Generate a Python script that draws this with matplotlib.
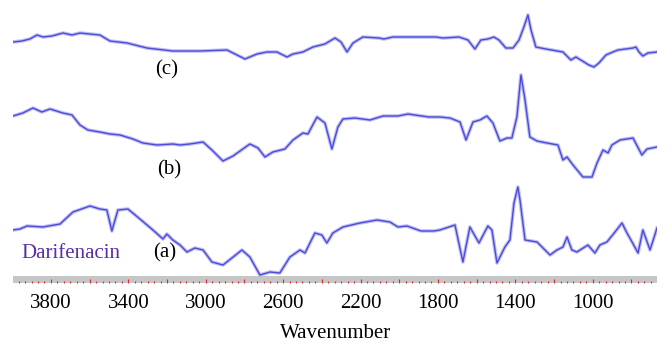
import matplotlib
matplotlib.use("Agg")
import matplotlib.pyplot as plt
from matplotlib.ticker import MultipleLocator, FuncFormatter

# FTIR spectra, wavenumber (cm-1) vs. offset transmittance (arbitrary units)
wn_c = [3996, 3950, 3909, 3872, 3841, 3795, 3738, 3691, 3650, 3547, 3495, 3407,
        3304, 3170, 3030, 2890, 2859, 2797, 2735, 2684, 2632, 2580, 2549, 2498,
        2446, 2384, 2332, 2301, 2270, 2239, 2188, 2105, 2079, 2033, 1810, 1774,
        1691, 1645, 1609, 1578, 1542, 1511, 1485, 1449, 1412, 1381, 1356, 1335,
        1319, 1294, 1242, 1154, 1113, 1087, 1020, 994, 968, 932, 896, 870, 792,
        777, 761, 741, 715, 668]
tr_c = [241, 242, 244, 248, 246, 247, 250, 248, 250, 248, 242, 240,
        235, 232, 232, 233, 230, 224, 229, 231, 231, 226, 229, 231,
        236, 239, 245, 241, 231, 240, 246, 245, 244, 246, 246, 245,
        246, 243, 234, 243, 244, 246, 243, 235, 235, 243, 256, 268,
        253, 236, 234, 231, 223, 226, 218, 216, 220, 228, 231, 233, 235,
        236, 231, 227, 230, 231]

wn_b = [3996, 3945, 3893, 3847, 3805, 3738, 3691, 3650, 3609, 3547, 3495, 3443,
        3376, 3325, 3252, 3170, 3133, 3082, 3014, 2968, 2911, 2859, 2772, 2730,
        2694, 2653, 2591, 2549, 2498, 2472, 2425, 2384, 2348, 2317, 2291, 2229,
        2151, 2084, 2007, 1955, 1847, 1790, 1738, 1686, 1655, 1619, 1583, 1547,
        1516, 1480, 1443, 1418, 1392, 1371, 1350, 1325, 1288, 1237, 1180, 1154,
        1133, 1102, 1051, 1004, 978, 947, 921, 901, 859, 792, 746, 720, 668]
tr_b = [167, 170, 175, 171, 174, 170, 168, 158, 153, 151, 149, 148,
        144, 140, 138, 139, 138, 139, 141, 133, 122, 127, 139, 135,
        126, 131, 134, 143, 150, 149, 166, 160, 134, 156, 164, 165,
        163, 167, 167, 169, 166, 166, 165, 161, 143, 161, 163, 167,
        160, 142, 145, 145, 166, 208, 183, 146, 142, 140, 138, 123,
        126, 118, 106, 106, 120, 133, 130, 138, 143, 145, 128, 134, 136]

wn_a = [3996, 3960, 3924, 3841, 3753, 3686, 3598, 3547, 3511, 3485, 3454, 3402,
        3340, 3273, 3221, 3201, 3170, 3133, 3097, 3056, 3014, 2968, 2911, 2865,
        2813, 2772, 2720, 2668, 2617, 2565, 2513, 2487, 2436, 2400, 2374, 2343,
        2291, 2203, 2115, 2048, 2007, 1960, 1888, 1821, 1790, 1712, 1671, 1635,
        1588, 1542, 1521, 1495, 1454, 1428, 1407, 1387, 1376, 1350, 1288, 1221,
        1185, 1154, 1133, 1108, 1082, 1025, 989, 963, 927, 885, 849, 823,
        797, 766, 741, 704, 668]
tr_a = [53, 54, 57, 56, 59, 71, 77, 74, 73, 52, 73, 74,
        64, 53, 44, 49, 43, 38, 31, 35, 33, 21, 18, 25,
        33, 26, 8, 11, 10, 26, 33, 30, 50, 48, 40, 50,
        56, 60, 63, 61, 56, 57, 52, 52, 53, 58, 21, 56,
        40, 57, 53, 20, 36, 43, 80, 96, 83, 43, 41, 28,
        33, 36, 46, 33, 31, 38, 30, 38, 41, 51, 60, 50,
        41, 30, 53, 33, 55]

tick_labels = [3800, 3400, 3000, 2600, 2200, 1800, 1400, 1000]

W, H = 672, 354
fig = plt.figure(figsize=(W / 100, H / 100), dpi=100)
ax = fig.add_axes([13 / W, (H - 283) / H, 644 / W, 283 / H])

core = '#4b4bd9'
halo = '#a4a4f2'
for wn, tr in [(wn_c, tr_c), (wn_b, tr_b), (wn_a, tr_a)]:
    ax.plot(wn, tr, color=halo, lw=2.6, alpha=0.7, solid_joinstyle='round', zorder=2)
    ax.plot(wn, tr, color=core, lw=1.0, solid_joinstyle='round', zorder=3)

ax.set_xlim(3996, 668)
ax.set_ylim(0, 283)

# grey axis band with red ticks
ax.axhspan(0, 7, color='#c6c6c6', lw=0, zorder=1)
for s in ax.spines.values():
    s.set_visible(False)
ax.set_yticks([])
ax.xaxis.set_major_locator(MultipleLocator(200))
ax.xaxis.set_minor_locator(MultipleLocator(200 / 6))
ax.xaxis.set_major_formatter(FuncFormatter(
    lambda v, p: f"{int(round(v))}" if int(round(v)) in tick_labels else ""))
ax.tick_params(axis='x', which='major', direction='in', length=3.0, width=0.8,
               color='#e02828', pad=8, labelsize=15, labelfontfamily='Liberation Serif')
ax.tick_params(axis='x', which='minor', direction='in', length=1.8, width=0.8,
               color='#e02828')

serif = 'Liberation Serif'
fig.text(336 / W, 1 - 334 / H, 'Wavenumber', ha='center', va='center',
         fontsize=15, family=serif)
fig.text(167 / W, 1 - 70 / H, '(c)', ha='center', va='center', fontsize=15, family=serif)
fig.text(169 / W, 1 - 170 / H, '(b)', ha='center', va='center', fontsize=15, family=serif)
fig.text(165 / W, 1 - 253 / H, '(a)', ha='center', va='center', fontsize=15, family=serif)
fig.text(21 / W, 1 - 253 / H, 'Darifenacin', ha='left', va='center', fontsize=15,
         family=serif, color='#5a2ca6')

fig.savefig('out.png', dpi=100)
